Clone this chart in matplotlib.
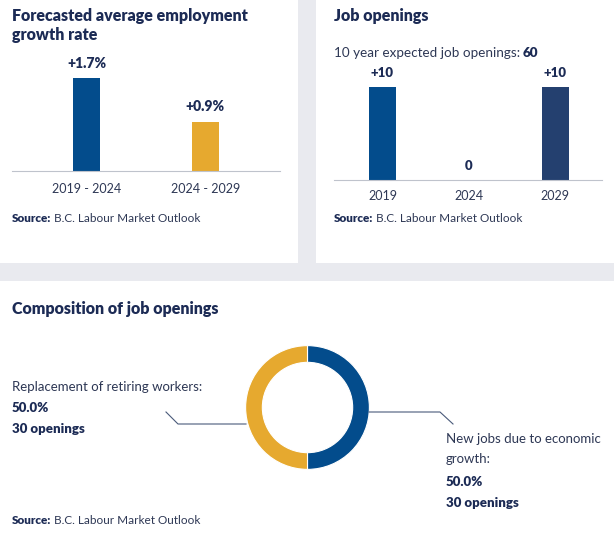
import matplotlib
matplotlib.use("Agg")
import matplotlib.pyplot as plt
from matplotlib.patches import Rectangle
from matplotlib.lines import Line2D

####  DATA
growth_periods = ["2019 - 2024", "2024 - 2029"]
growth_values = [1.7, 0.9]
growth_labels = ["+1.7%", "+0.9%"]

opening_years = ["2019", "2024", "2029"]
opening_values = [10, 0, 10]
opening_labels = ["+10", "0", "+10"]
total_openings = 60

comp_names = ["New jobs due to economic\ngrowth:", "Replacement of retiring workers:"]
comp_shares = [50.0, 50.0]
comp_counts = [30, 30]

####  STYLE
W, H = 614, 537
BG = "#E9EAEF"
NAVY = "#1C2B55"
TEXT = "#2E3855"
BLUE = "#034C8C"
GOLD = "#E6A92F"
DARK = "#24406F"
AXIS = "#BFC3CC"

plt.rcParams["font.family"] = ["Lato", "DejaVu Sans"]

fig = plt.figure(figsize=(W / 100, H / 100), dpi=100, facecolor=BG)


def box(x0, y0, x1, y1):
    ##  pixel box (top-left origin) -> figure fraction rect
    return [x0 / W, 1 - y1 / H, (x1 - x0) / W, (y1 - y0) / H]


def txt(x, y, s, **kw):
    kw.setdefault("color", TEXT)
    kw.setdefault("va", "center")
    fig.text(x / W, 1 - y / H, s, **kw)


##  white panels
for (x0, y0, x1, y1) in [(0, 0, 298, 263), (316, 0, 614, 263), (0, 281, 614, 537)]:
    fig.patches.append(Rectangle((x0 / W, 1 - y1 / H), (x1 - x0) / W, (y1 - y0) / H,
                                 transform=fig.transFigure, facecolor="white",
                                 edgecolor="none", zorder=-5))

####  PANEL 1 : growth rate
txt(12, 16, "Forecasted average employment", fontsize=11.5, weight="heavy", color=NAVY)
txt(12, 35, "growth rate", fontsize=11.5, weight="heavy", color=NAVY)

ax1 = fig.add_axes(box(12, 78, 280, 171))
ax1.bar([0, 1], growth_values, width=0.23, color=[BLUE, GOLD])
ax1.set_xlim(-0.63, 1.63)
ax1.set_ylim(0, max(growth_values))
for i, (v, lab) in enumerate(zip(growth_values, growth_labels)):
    ax1.annotate(lab, (i, v), xytext=(0, 6), textcoords="offset points",
                 ha="center", va="bottom", fontsize=10, weight="heavy", color=NAVY)
ax1.set_xticks([0, 1])
ax1.set_xticklabels(growth_periods, fontsize=9, color=TEXT)
ax1.tick_params(axis="x", length=0, pad=9)
ax1.set_yticks([])
for s in ["top", "right", "left"]:
    ax1.spines[s].set_visible(False)
ax1.spines["bottom"].set_color(AXIS)
ax1.patch.set_alpha(0)
for p in ax1.patches:
    p.set_clip_on(False)

txt(12, 218, "Source:", fontsize=8.5, weight="heavy", color=NAVY)
txt(54, 218, "B.C. Labour Market Outlook", fontsize=8.5, color=TEXT)

####  PANEL 2 : job openings
txt(334, 16, "Job openings", fontsize=11.5, weight="heavy", color=NAVY)
txt(334, 53, "10 year expected job openings:", fontsize=9.7, color=TEXT)
txt(523, 53, str(total_openings), fontsize=9.7, weight="heavy", color=NAVY)

ax2 = fig.add_axes(box(334, 87, 602, 180))
ax2.bar([0, 1, 2], opening_values, width=0.31, color=[BLUE, BLUE, DARK])
ax2.set_xlim(-0.56, 2.54)
ax2.set_ylim(0, max(opening_values))
for i, (v, lab) in enumerate(zip(opening_values, opening_labels)):
    ax2.annotate(lab, (i, v), xytext=(0, 6), textcoords="offset points",
                 ha="center", va="bottom", fontsize=9.5, weight="heavy", color=NAVY)
ax2.set_xticks([0, 1, 2])
ax2.set_xticklabels(opening_years, fontsize=9, color=TEXT)
ax2.tick_params(axis="x", length=0, pad=7)
ax2.set_yticks([])
for s in ["top", "right", "left"]:
    ax2.spines[s].set_visible(False)
ax2.spines["bottom"].set_color(AXIS)
ax2.patch.set_alpha(0)
for p in ax2.patches:
    p.set_clip_on(False)

txt(334, 218, "Source:", fontsize=8.5, weight="heavy", color=NAVY)
txt(376, 218, "B.C. Labour Market Outlook", fontsize=8.5, color=TEXT)

####  PANEL 3 : composition
txt(12, 309, "Composition of job openings", fontsize=11.5, weight="heavy", color=NAVY)

ax3 = fig.add_axes(box(245, 345, 370, 470))
ax3.pie(comp_shares, colors=[BLUE, GOLD], startangle=90, counterclock=False,
        radius=1.0, wedgeprops=dict(width=0.27, edgecolor="white", linewidth=0.8))
ax3.set_xlim(-1.01, 1.01)
ax3.set_ylim(-1.01, 1.01)
ax3.set_aspect("equal")

##  leader lines (figure pixel coords)
for xs, ys in [([246, 178, 166], [424, 424, 412]), ([369, 440, 453], [412, 412, 424])]:
    fig.lines.append(Line2D([x / W for x in xs], [1 - y / H for y in ys],
                            transform=fig.transFigure, color="#4A5A7A", linewidth=0.8))

txt(12, 387, comp_names[1], fontsize=9.5)
txt(12, 408, "%.1f%%" % comp_shares[1], fontsize=9.5, weight="heavy", color=NAVY)
txt(12, 429, "%d openings" % comp_counts[1], fontsize=9.5, weight="heavy", color=NAVY)

txt(446, 449, comp_names[0], fontsize=9.5, linespacing=1.75)
txt(446, 482, "%.1f%%" % comp_shares[0], fontsize=9.5, weight="heavy", color=NAVY)
txt(446, 503, "%d openings" % comp_counts[0], fontsize=9.5, weight="heavy", color=NAVY)

txt(12, 521, "Source:", fontsize=8.5, weight="heavy", color=NAVY)
txt(54, 521, "B.C. Labour Market Outlook", fontsize=8.5, color=TEXT)

fig.savefig("out.png", dpi=100, facecolor=BG)
